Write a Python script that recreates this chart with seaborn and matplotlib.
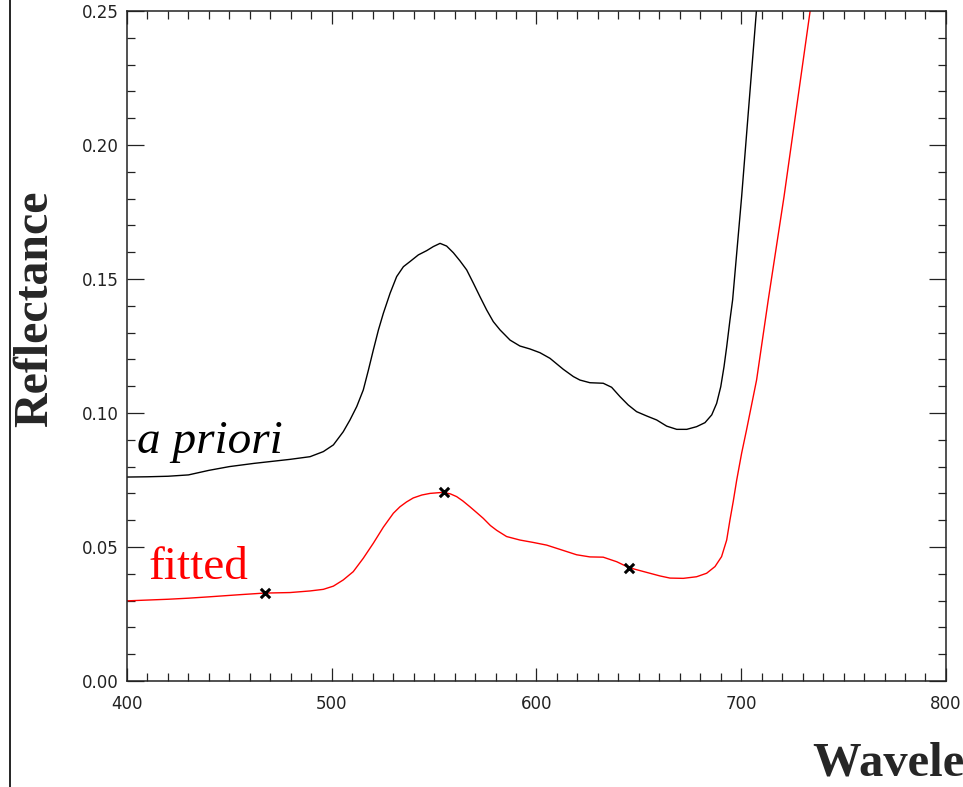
import pandas as pd
import matplotlib.pyplot as plt
import seaborn as sns
from matplotlib.lines import Line2D
from matplotlib.ticker import MultipleLocator

sns.set_style("ticks")
plt.rcParams['font.family'] = 'DejaVu Sans'

# a priori reflectance spectrum (black)
apriori_wl = [400, 410, 420, 430, 440, 450, 462, 479.6, 489.4, 495.9, 500.8, 505.6,
              508.9, 512.2, 515.4, 517.9, 520.3, 522.8, 525.2, 528.5, 531.7, 535.0,
              538.2, 542.3, 546.4, 549.6, 552.9, 556.1, 559.4, 562.6, 565.9, 569.2,
              572.4, 575.7, 578.9, 582.2, 587.1, 591.9, 596.8, 601.7, 606.6, 613.1,
              618.0, 621.2, 626.1, 632.6, 636.7, 640.8, 644.8, 648.9, 653.8, 658.7,
              663.6, 668.5, 673.4, 678.2, 682.3, 685.6, 688.0, 690.0, 691.6, 692.9,
              694.5, 695.8, 700.2, 703.4, 707.2, 708.0]
apriori_refl = [0.0761, 0.0762, 0.0764, 0.0769, 0.0786, 0.0800, 0.0812, 0.0827, 0.0837,
                0.0856, 0.0881, 0.0930, 0.0974, 0.1024, 0.1086, 0.1160, 0.1235, 0.1310,
                0.1372, 0.1447, 0.1509, 0.1546, 0.1565, 0.1590, 0.1606, 0.1621, 0.1633,
                0.1623, 0.1598, 0.1568, 0.1534, 0.1484, 0.1434, 0.1384, 0.1341, 0.1310,
                0.1272, 0.1250, 0.1239, 0.1225, 0.1204, 0.1163, 0.1136, 0.1123, 0.1113,
                0.1111, 0.1096, 0.1061, 0.1030, 0.1005, 0.0989, 0.0974, 0.0951, 0.0939,
                0.0939, 0.0949, 0.0964, 0.0993, 0.1036, 0.1098, 0.1173, 0.1247, 0.1347,
                0.1422, 0.1807, 0.2116, 0.2479, 0.2560]

# fitted reflectance spectrum (red)
fitted_wl = [400, 410, 420, 430, 440, 455, 467, 479.6, 489.4, 495.9, 500.8, 505.6,
             510.5, 515.4, 520.3, 525.2, 530.1, 533.3, 536.5, 539.8, 544.0, 548.0,
             554.5, 558.0, 561.0, 564.0, 567.5, 571.0, 574.0, 577.5, 580.6, 585.4,
             591.9, 598.4, 605.0, 611.5, 619.6, 626.1, 632.6, 639.2, 645.2, 650.5,
             655.4, 660.3, 665.2, 671.7, 678.2, 683.1, 687.2, 690.4, 692.9, 694.5,
             696.1, 697.8, 700.2, 702.6, 707.5, 713.2, 720.9, 733.6, 734.5]
fitted_refl = [0.0299, 0.0302, 0.0305, 0.0309, 0.0314, 0.0322, 0.0328, 0.0330, 0.0336,
               0.0342, 0.0354, 0.0377, 0.0408, 0.0458, 0.0514, 0.0574, 0.0626, 0.0650,
               0.0668, 0.0683, 0.0694, 0.0700, 0.0704, 0.0698, 0.0688, 0.0672, 0.0650,
               0.0627, 0.0607, 0.0580, 0.0562, 0.0539, 0.0526, 0.0517, 0.0507, 0.0491,
               0.0471, 0.0463, 0.0462, 0.0445, 0.0423, 0.0412, 0.0402, 0.0392, 0.0384,
               0.0383, 0.0389, 0.0402, 0.0427, 0.0464, 0.0526, 0.0601, 0.0670, 0.0750,
               0.0850, 0.0937, 0.1123, 0.1422, 0.1807, 0.2497, 0.2540]

# fit points (x markers)
point_wl = [467.4, 554.6, 645.2]
point_refl = [0.0330, 0.0704, 0.0423]

apriori = pd.DataFrame({'wl': apriori_wl, 'refl': apriori_refl})
fitted = pd.DataFrame({'wl': fitted_wl, 'refl': fitted_refl})
points = pd.DataFrame({'wl': point_wl, 'refl': point_refl})

fig = plt.figure(figsize=(9.63, 7.87), dpi=100)
ax = fig.add_axes([0.1319, 0.1347, 0.8504, 0.8513])

sns.lineplot(data=apriori, x='wl', y='refl', ax=ax, color='black', lw=1.0,
             estimator=None, sort=False)
sns.lineplot(data=fitted, x='wl', y='refl', ax=ax, color='red', lw=1.0,
             estimator=None, sort=False)
sns.scatterplot(data=points, x='wl', y='refl', ax=ax, marker='x', color='black',
                s=45, linewidth=2.2, zorder=5)

ax.set_xlim(400, 800)
ax.set_ylim(0, 0.25)
ax.xaxis.set_major_locator(MultipleLocator(100))
ax.xaxis.set_minor_locator(MultipleLocator(10))
ax.yaxis.set_major_locator(MultipleLocator(0.05))
ax.yaxis.set_minor_locator(MultipleLocator(0.01))
ax.xaxis.set_major_formatter(plt.FormatStrFormatter('%d'))
ax.yaxis.set_major_formatter(plt.FormatStrFormatter('%.2f'))

ax.tick_params(which='both', direction='in', top=True, right=True,
               width=0.9, color='#222222', labelcolor='#222222', labelsize=12)
ax.tick_params(axis='x', which='major', length=9.5, pad=10)
ax.tick_params(axis='y', which='major', length=12, pad=6)
ax.tick_params(which='minor', length=5.5)
for s in ax.spines.values():
    s.set_linewidth(1.1)
    s.set_color('#222222')

ax.set_xlabel('')
ax.set_ylabel('')

# curve labels
ax.text(404.9, 0.0851, 'a priori', family='Liberation Serif', style='italic',
        fontsize=34, color='black', ha='left', va='baseline')
ax.text(410.3, 0.0381, 'fitted', family='Liberation Serif', fontsize=34,
        color='red', ha='left', va='baseline')

# axis titles (the x title runs off the right edge, as in the original)
fig.text(35 / 963, 1 - 309 / 787, 'Reflectance', family='Liberation Serif',
         weight='bold', fontsize=34.5, rotation=90, ha='center', va='center')
fig.text(813 / 963, 1 - 776 / 787, 'Wavelength (nm)', family='Liberation Serif',
         weight='bold', fontsize=35, ha='left', va='baseline')

# left border line of the frame
fig.add_artist(Line2D([9.5 / 963, 9.5 / 963], [0, 1], transform=fig.transFigure,
                      color='black', lw=1.2))

fig.savefig('out.png', dpi=100)
